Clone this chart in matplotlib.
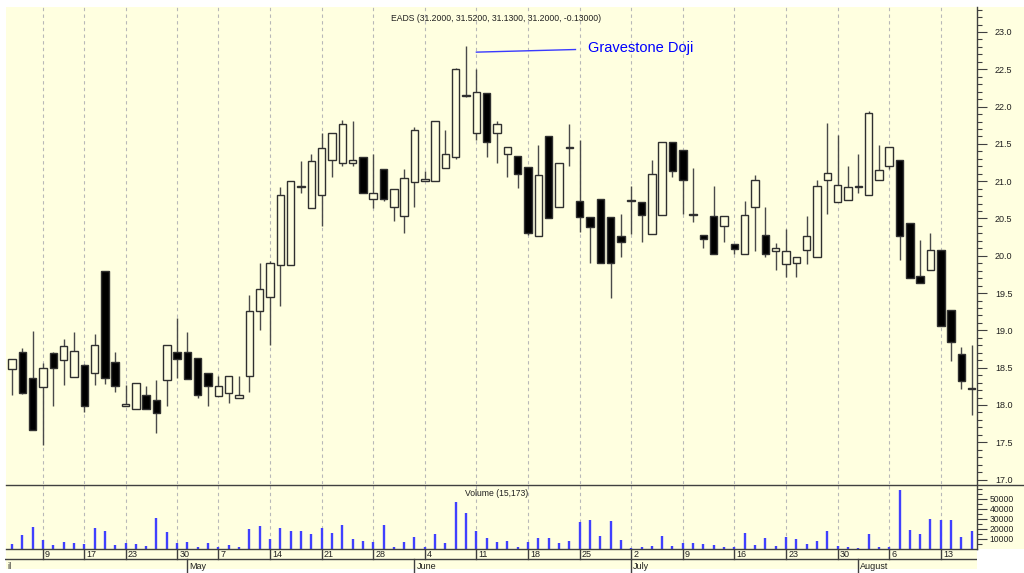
import matplotlib
matplotlib.use("Agg")
import matplotlib.pyplot as plt
from matplotlib.patches import Rectangle
from matplotlib.lines import Line2D
from matplotlib.ticker import MultipleLocator, FixedLocator, FormatStrFormatter
import numpy as np
import pandas as pd

plt.rcParams['font.family'] = ['Liberation Sans', 'DejaVu Sans']

# ---------------- data ----------------
holidays = ["2001-04-13", "2001-04-16", "2001-05-01"]
dates = [d for d in pd.bdate_range("2001-04-04", "2001-08-16")
         if d.strftime("%Y-%m-%d") not in holidays]

opens = [18.48, 18.71, 18.36, 18.24, 18.70, 18.60, 18.38, 18.54, 18.43, 19.80,
         18.57, 17.99, 17.95, 18.13, 18.07, 18.34, 18.71, 18.71, 18.63, 18.43,
         18.12, 18.16, 18.09, 18.39, 19.26, 19.45, 19.88, 19.88, 20.92, 20.64,
         20.82, 21.28, 21.24, 21.24, 21.32, 20.76, 21.17, 20.65, 20.53, 20.99,
         21.00, 21.00, 21.18, 21.32, 22.14, 21.64, 22.18, 21.64, 21.37, 21.34,
         21.19, 20.27, 21.60, 20.65, 21.44, 20.73, 20.52, 20.76, 20.52, 20.27,
         20.73, 20.72, 20.29, 20.55, 21.52, 21.42, 20.56, 20.28, 20.54, 20.40,
         20.16, 20.02, 20.65, 20.28, 20.07, 19.89, 19.90, 20.08, 19.98, 21.01,
         20.72, 20.75, 20.92, 20.82, 21.01, 21.20, 21.28, 20.44, 19.73, 19.81,
         20.08, 19.27, 18.68, 18.22]
highs = [18.62, 18.76, 18.99, 18.56, 18.71, 18.89, 18.98, 18.55, 18.95, 19.80,
         18.71, 18.27, 18.30, 18.26, 18.34, 18.80, 19.17, 18.98, 18.63, 18.43,
         18.39, 18.39, 18.39, 19.48, 19.90, 19.93, 20.92, 21.00, 21.27, 21.36,
         21.64, 21.64, 21.82, 21.81, 21.33, 21.36, 21.17, 20.90, 21.17, 21.73,
         21.14, 21.81, 21.69, 22.52, 22.81, 22.50, 22.18, 21.81, 21.46, 21.34,
         21.19, 21.49, 21.60, 21.24, 21.77, 21.55, 20.52, 20.76, 20.52, 20.56,
         20.93, 20.72, 21.28, 21.52, 21.52, 21.42, 21.18, 20.28, 20.93, 20.54,
         20.16, 20.73, 21.08, 20.65, 20.17, 20.36, 19.99, 20.54, 21.02, 21.78,
         21.62, 21.20, 21.36, 21.94, 21.48, 21.46, 21.28, 20.44, 20.21, 20.30,
         20.08, 19.27, 18.78, 18.80]
lows = [18.14, 18.15, 17.67, 17.46, 17.99, 18.27, 18.38, 17.90, 18.27, 18.28,
        18.18, 17.98, 17.95, 17.95, 17.63, 17.99, 18.36, 18.35, 18.10, 17.99,
        18.12, 18.03, 18.09, 18.17, 19.01, 18.80, 19.33, 19.88, 20.84, 20.64,
        20.40, 21.05, 21.20, 21.20, 20.84, 20.64, 20.73, 20.46, 20.31, 20.66,
        21.00, 21.00, 21.18, 21.30, 22.13, 21.55, 21.33, 21.25, 21.06, 20.91,
        20.28, 20.27, 20.50, 20.65, 21.20, 20.32, 19.91, 19.90, 19.43, 19.99,
        20.29, 20.19, 20.29, 20.55, 21.05, 20.56, 20.45, 20.11, 20.02, 20.18,
        20.03, 20.02, 20.06, 19.99, 19.81, 19.71, 19.71, 19.89, 19.98, 20.56,
        20.72, 20.75, 20.84, 20.82, 21.01, 21.17, 19.95, 19.70, 19.64, 19.81,
        19.06, 18.59, 18.21, 17.86]
closes = [18.61, 18.16, 17.67, 18.49, 18.50, 18.79, 18.72, 17.99, 18.80, 18.36,
          18.26, 18.02, 18.30, 17.95, 17.89, 18.80, 18.62, 18.35, 18.13, 18.26,
          18.26, 18.39, 18.13, 19.26, 19.55, 19.90, 20.82, 21.00, 20.92, 21.27,
          21.45, 21.64, 21.77, 21.28, 20.84, 20.84, 20.76, 20.90, 21.04, 21.69,
          21.03, 21.81, 21.36, 22.51, 22.16, 22.19, 21.52, 21.76, 21.46, 21.10,
          20.31, 21.08, 20.50, 21.24, 21.45, 20.52, 20.38, 19.90, 19.90, 20.18,
          20.73, 20.55, 21.10, 21.52, 21.14, 21.01, 20.55, 20.23, 20.02, 20.54,
          20.09, 20.55, 21.01, 20.03, 20.11, 20.07, 19.99, 20.27, 20.94, 21.11,
          20.95, 20.92, 20.92, 21.91, 21.15, 21.46, 20.27, 19.70, 19.64, 20.08,
          19.06, 18.84, 18.32, 18.21]
volumes = [4300, 13900, 21800, 8300, 3600, 6900, 5300, 4300, 21200, 18200,
           3600, 5600, 4300, 3000, 30400, 16500, 6000, 6300, 2000, 5300,
           1300, 3300, 1300, 19800, 23100, 9900, 20800, 17900, 17900, 14900,
           20800, 15200, 24100, 9900, 7600, 6600, 23500, 2000, 6900, 11200,
           2000, 14900, 5300, 46900, 35400, 17500, 10600, 6300, 7600, 2000,
           6600, 10600, 10600, 5300, 7300, 26400, 28800, 12200, 28100, 8900,
           1000, 1300, 3000, 12200, 2300, 5300, 6000, 4300, 3300, 2000,
           1300, 16200, 3300, 10600, 3000, 11200, 9300, 4300, 7600, 17900,
           2600, 2000, 500, 14900, 1300, 2000, 58800, 18800, 14900, 29800,
           28400, 29100, 11600, 18200]

title_text = "EADS (31.2000, 31.5200, 31.1300, 31.2000, -0.13000)"
volume_text = "Volume (15,173)"
annot_text = "Gravestone Doji"
doji_date = "2001-06-08"
first_month_visible = "il"   # visible tail of "April" at the left edge

# ---------------- layout ----------------
W, H = 1024, 573
BG = "#FFFFE0"
X0, DX = 12.0, 10.32   # pixel position of first bar and bar spacing


def fx(px):
    return px / W


def fy(py):
    return 1 - py / H


def xl(a, b):
    return ((a - X0) / DX, (b - X0) / DX)


fig = plt.figure(figsize=(W / 100, H / 100), dpi=100, facecolor="white")
fig.patches.append(Rectangle((fx(6), fy(549)), 1 - fx(6), fy(7) - fy(549),
                             transform=fig.transFigure, facecolor=BG,
                             edgecolor="none", zorder=-10))
fig.patches.append(Rectangle((fx(6), fy(569)), fx(977) - fx(6), fy(549) - fy(569),
                             transform=fig.transFigure, facecolor=BG,
                             edgecolor="none", zorder=-10))

idx = np.arange(len(dates))
o = np.array(opens); h = np.array(highs); l = np.array(lows); c = np.array(closes)
v = np.array(volumes)

# week ticks and month ticks
week_idx = [i for i in range(1, len(dates)) if dates[i].weekday() < dates[i - 1].weekday()]
month_idx = [i for i in range(1, len(dates)) if dates[i].month != dates[i - 1].month]

AXC = "#404040"
GRID = "#b8b8b8"

# ---------------- price panel ----------------
ax = fig.add_axes([fx(6), fy(484), fx(977) - fx(6), fy(7) - fy(484)])
ax.set_facecolor("none")
ax.set_xlim(*xl(6, 977))
ax.set_ylim(16.941, 23.335)
for sp in ("left", "top", "bottom"):
    ax.spines[sp].set_visible(False)
ax.spines["right"].set_color(AXC)
ax.spines["right"].set_linewidth(1)
ax.yaxis.tick_right()
ax.yaxis.set_major_locator(MultipleLocator(0.5))
ax.yaxis.set_minor_locator(MultipleLocator(0.1))
ax.yaxis.set_major_formatter(FormatStrFormatter("%.1f"))
ax.tick_params(axis="y", which="major", length=7, width=0.8, color=AXC,
               labelsize=6.5, pad=6, labelcolor="#202020")
ax.tick_params(axis="y", which="minor", length=3.5, width=0.8, color=AXC)
ax.set_xticks([])
for i in week_idx:
    ax.axvline(i, color=GRID, lw=0.8, ls=(0, (3, 3)), zorder=0)

ax.vlines(idx, l, h, color="#4a4a4a", lw=1.0, zorder=2)
bw = 0.72
for i in idx:
    lo, hi = min(o[i], c[i]), max(o[i], c[i])
    hgt = max(hi - lo, 0.012)
    black = c[i] < o[i]
    ax.add_patch(Rectangle((i - bw / 2, lo), bw, hgt,
                           facecolor="black" if black else BG,
                           edgecolor="#303030", lw=1.0, zorder=3))

ax.text(0.505, 0.985, title_text, transform=ax.transAxes, ha="center", va="top",
        fontsize=6.2, color="#202020")

d_i = [k for k, d in enumerate(dates) if d.strftime("%Y-%m-%d") == doji_date][0]
ax.plot([d_i + 1.0, d_i + 10.6], [h[d_i] - 0.08, h[d_i] - 0.045],
        color="#3a3aff", lw=1.0, zorder=4)
ax.text(d_i + 11.8, h[d_i] - 0.02, annot_text, color="#0000ff", fontsize=10.5,
        ha="left", va="center")

# separator line across full width
fig.add_artist(Line2D([fx(6), 1.0], [fy(484.5), fy(484.5)], color=AXC, lw=1.0))

# ---------------- volume panel ----------------
axv = fig.add_axes([fx(6), fy(549), fx(977) - fx(6), fy(484.5) - fy(549)])
axv.set_facecolor("none")
axv.set_xlim(*xl(6, 977))
axv.set_ylim(-400, 64500)
for sp in ("left", "top"):
    axv.spines[sp].set_visible(False)
for sp in ("right", "bottom"):
    axv.spines[sp].set_color(AXC)
    axv.spines[sp].set_linewidth(1)
axv.yaxis.tick_right()
axv.yaxis.set_major_locator(FixedLocator([10000, 20000, 30000, 40000, 50000]))
axv.yaxis.set_minor_locator(FixedLocator(list(range(5000, 65000, 5000))))
axv.tick_params(axis="y", which="major", length=7, width=0.8, color=AXC,
                labelsize=6.2, pad=2, labelcolor="#202020")
axv.tick_params(axis="y", which="minor", length=3.5, width=0.8, color=AXC)
axv.set_xticks([])
for i in week_idx:
    axv.axvline(i, color=GRID, lw=0.8, ls=(0, (3, 3)), zorder=0)
axv.vlines(idx, 0, v, color="#4040ff", lw=1.7, zorder=2)
axv.text(0.505, 0.93, volume_text, transform=axv.transAxes, ha="center", va="top",
         fontsize=6.2, color="#202020")

# ---------------- date axis ----------------
dax = fig.add_axes([fx(5), fy(573), fx(977) - fx(5), fy(549) - fy(573)])
dax.patch.set_visible(False)
dax.set_xlim(*xl(5, 977))
dax.set_ylim(24, 0)
dax.axis("off")
dax.axhline(10.3, color=AXC, lw=1.0)
for i in week_idx:
    dax.plot([i, i], [0, 10.3], color=AXC, lw=1.0)
    dax.text(i + 0.2, 5.4, str(dates[i].day), ha="left", va="center",
             fontsize=6.5, color="#202020")
for i in month_idx:
    dax.plot([i, i], [10.3, 24], color=AXC, lw=1.0)
    dax.text(i + 0.2, 17.8, dates[i].strftime("%B"), ha="left", va="center",
             fontsize=6.5, color="#202020")
dax.text(-0.05, 17.8, first_month_visible, ha="right", va="center",
         fontsize=6.5, color="#202020")

fig.savefig("out.png", dpi=100, facecolor="white")
